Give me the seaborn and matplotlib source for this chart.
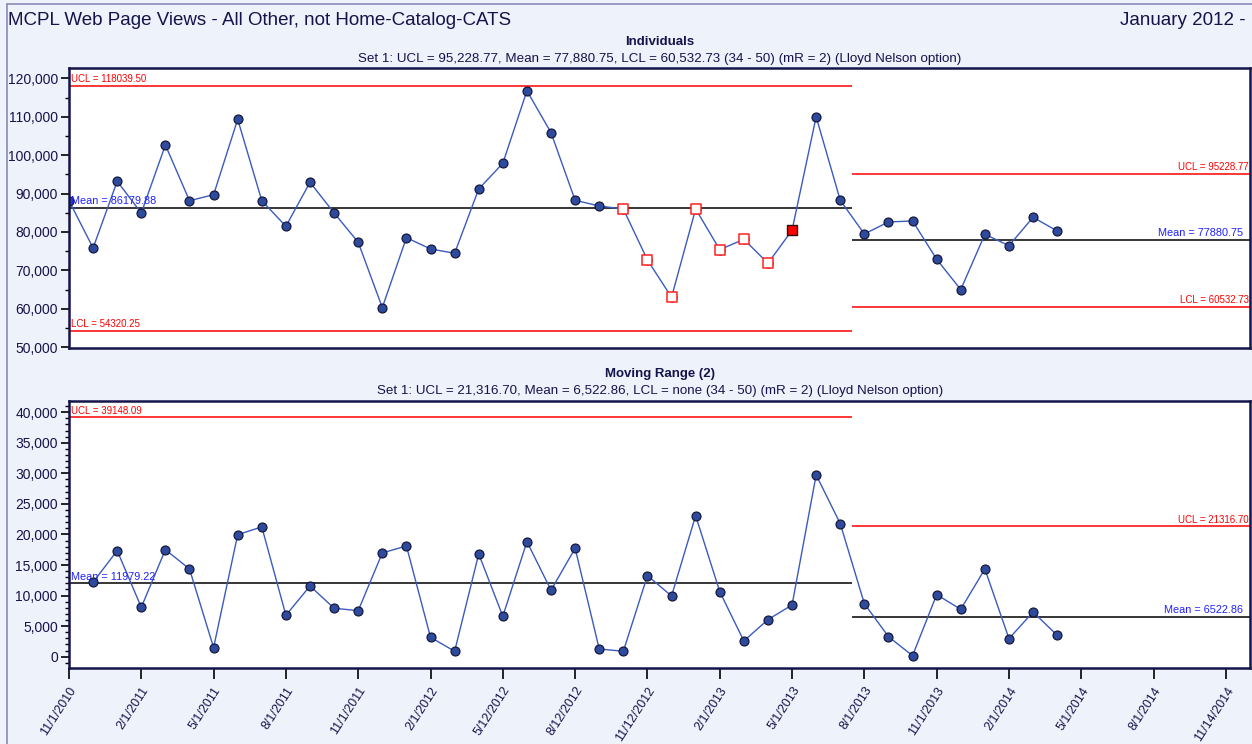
import numpy as np
import matplotlib
matplotlib.use('Agg')
import matplotlib.pyplot as plt
from matplotlib.lines import Line2D
from matplotlib.ticker import MultipleLocator, FuncFormatter
import seaborn as sns

# monthly values, Nov 2010 .. Apr 2014
views = [88150, 75840, 93200, 84950, 102640, 88150, 89710, 109330, 88150, 81490,
         92940, 84950, 77320, 60310, 78520, 75580, 74460, 91200, 97880, 116770,
         105850, 88250, 86770, 85990, 72720, 63010, 85990, 75400, 78100, 71860,
         80450, 110010, 88250, 79480, 82610, 82870, 72900, 65000, 79410, 76440,
         83830, 80260]
# moving range (2), starts at the 2nd month
mr = [12180, 17350, 8080, 17510, 14350, 1470, 19970, 21230, 6770, 11570,
      7920, 7530, 16970, 18120, 3170, 880, 16810, 6610, 18820, 10870,
      17740, 1260, 880, 13260, 9930, 23080, 10640, 2570, 6060, 8460,
      29740, 21770, 8670, 3270, 160, 10150, 7750, 14350, 2950, 7310, 3500]
# points flagged by the run rules (open squares) and the filled one
flag_open = [23, 24, 25, 26, 27, 28, 29]
flag_fill = [30]
set1_start = 33  # point 34

tick_labels = ['11/1/2010', '2/1/2011', '5/1/2011', '8/1/2011', '11/1/2011',
               '2/1/2012', '5/12/2012', '8/12/2012', '11/12/2012', '2/1/2013',
               '5/1/2013', '8/1/2013', '11/1/2013', '2/1/2014', '5/1/2014',
               '8/1/2014', '11/14/2014']

ind_lim = {'ucl0': 118039.50, 'mean0': 86179.88, 'lcl0': 54320.25,
           'ucl1': 95228.77, 'mean1': 77880.75, 'lcl1': 60532.73}
mr_lim = {'ucl0': 39148.09, 'mean0': 11979.22, 'ucl1': 21316.70, 'mean1': 6522.86}

sns.set_theme(style='ticks')
plt.rcParams['font.family'] = ['Liberation Sans', 'DejaVu Sans']

navy = '#14144a'
bg = '#eef2fb'
line_c = '#3a5bbf'
dot_c = '#2d4a9c'

fig = plt.figure(figsize=(12.52, 7.44), dpi=100, facecolor=bg)
ax1 = fig.add_axes([0.0551, 0.5323, 0.9433, 0.3763])
ax2 = fig.add_axes([0.0551, 0.1022, 0.9433, 0.3589])

x_ind = np.arange(len(views))
x_mr = np.arange(1, len(views))
split = set1_start - 0.5
xmax = 49.0


def style_axes(ax):
    ax.set_facecolor('white')
    ax.grid(False)
    for s in ax.spines.values():
        s.set_color(navy)
        s.set_linewidth(1.8)
    ax.set_xlim(0, xmax)
    ax.tick_params(axis='y', which='major', direction='out', length=6, width=1.2,
                   color='black', labelcolor=navy, labelsize=10, pad=2)
    ax.tick_params(axis='y', which='minor', direction='out', length=3, width=1,
                   color='black')
    ax.yaxis.set_major_formatter(FuncFormatter(lambda v, p: f'{int(v):,}'))
    ax.set_xlabel('')
    ax.set_ylabel('')


# ---------- Individuals ----------
ax = ax1
ax.hlines([ind_lim['ucl0'], ind_lim['lcl0']], 0, split, colors='red', lw=1.1)
ax.hlines(ind_lim['mean0'], 0, split, colors='black', lw=1.1)
ax.hlines([ind_lim['ucl1'], ind_lim['lcl1']], split, xmax, colors='red', lw=1.1)
ax.hlines(ind_lim['mean1'], split, xmax, colors='black', lw=1.1)
sns.lineplot(x=x_ind, y=views, ax=ax, color=line_c, lw=1, marker='o', markersize=6.5,
             markerfacecolor=dot_c, markeredgecolor='#101030', markeredgewidth=0.8)
sns.scatterplot(x=x_ind[flag_open], y=np.array(views)[flag_open], ax=ax, marker='s', s=55,
                facecolor='white', edgecolor='#ff2020', linewidth=1.1, zorder=5)
sns.scatterplot(x=x_ind[flag_fill], y=np.array(views)[flag_fill], ax=ax, marker='s', s=55,
                color='red', edgecolor='#301010', linewidth=1, zorder=5)
style_axes(ax)
ax.set_ylim(49800, 122700)
ax.yaxis.set_major_locator(MultipleLocator(10000))
ax.yaxis.set_minor_locator(MultipleLocator(5000))
ax.set_xticks([])
ax.text(0.1, ind_lim['ucl0'] + 500, 'UCL = 118039.50', color='red', fontsize=7, va='bottom')
ax.text(0.1, ind_lim['mean0'] + 500, 'Mean = 86179.88', color='#2020ff', fontsize=7.8, va='bottom')
ax.text(0.1, ind_lim['lcl0'] + 500, 'LCL = 54320.25', color='red', fontsize=7, va='bottom')
ax.text(xmax - 0.05, ind_lim['ucl1'] + 500, 'UCL = 95228.77', color='red', fontsize=7,
        va='bottom', ha='right')
ax.text(xmax - 0.3, ind_lim['mean1'] + 500, 'Mean = 77880.75', color='#2020ff', fontsize=7.8,
        va='bottom', ha='right')
ax.text(xmax - 0.05, ind_lim['lcl1'] + 500, 'LCL = 60532.73', color='red', fontsize=7,
        va='bottom', ha='right')

# ---------- Moving range ----------
ax = ax2
ax.hlines(mr_lim['ucl0'], 0, split, colors='red', lw=1.1)
ax.hlines(mr_lim['mean0'], 0, split, colors='black', lw=1.1)
ax.hlines(mr_lim['ucl1'], split, xmax, colors='red', lw=1.1)
ax.hlines(mr_lim['mean1'], split, xmax, colors='black', lw=1.1)
sns.lineplot(x=x_mr, y=mr, ax=ax, color=line_c, lw=1, marker='o', markersize=6.5,
             markerfacecolor=dot_c, markeredgecolor='#101030', markeredgewidth=0.8)
style_axes(ax)
ax.set_ylim(-1850, 41850)
ax.yaxis.set_major_locator(MultipleLocator(5000))
ax.yaxis.set_minor_locator(MultipleLocator(1000))
ax.set_xticks(np.arange(0, 49, 3))
ax.set_xticklabels(tick_labels, rotation=57, ha='right', rotation_mode='anchor')
ax.tick_params(axis='x', direction='out', length=8, width=1.2, color='black',
               labelcolor=navy, labelsize=9, pad=4)
ax.text(0.1, mr_lim['ucl0'] + 300, 'UCL = 39148.09', color='red', fontsize=7, va='bottom')
ax.text(0.1, mr_lim['mean0'] + 300, 'Mean = 11979.22', color='#2020ff', fontsize=7.8, va='bottom')
ax.text(xmax - 0.05, mr_lim['ucl1'] + 300, 'UCL = 21316.70', color='red', fontsize=7,
        va='bottom', ha='right')
ax.text(xmax - 0.3, mr_lim['mean1'] + 300, 'Mean = 6522.86', color='#2020ff', fontsize=7.8,
        va='bottom', ha='right')

# ---------- titles ----------
fig.text(0.0064, 0.973, 'MCPL Web Page Views - All Other, not Home-Catalog-CATS',
         fontsize=13.5, color=navy, va='center')
fig.text(0.995, 0.973, 'January 2012 -', fontsize=13.5, color=navy, va='center', ha='right')
fig.text(0.527, 0.943, 'Individuals', fontsize=9.5, fontweight='bold', color=navy,
         ha='center', va='center')
fig.text(0.527, 0.921, 'Set 1: UCL = 95,228.77, Mean = 77,880.75, LCL = 60,532.73 '
         '(34 - 50) (mR = 2) (Lloyd Nelson option)', fontsize=9.6, color=navy,
         ha='center', va='center')
fig.text(0.527, 0.497, 'Moving Range (2)', fontsize=9.5, fontweight='bold', color=navy,
         ha='center', va='center')
fig.text(0.527, 0.474, 'Set 1: UCL = 21,316.70, Mean = 6,522.86, LCL = none '
         '(34 - 50) (mR = 2) (Lloyd Nelson option)', fontsize=9.6, color=navy,
         ha='center', va='center')

# outer frame of the report page
fig.add_artist(Line2D([0.0056, 0.0056], [0.0, 0.995], color='#8a8ab8', lw=1.2))
fig.add_artist(Line2D([0.0056, 1.0], [0.995, 0.995], color='#8a8ab8', lw=1.2))

fig.savefig('out.png', dpi=100, facecolor=bg)
